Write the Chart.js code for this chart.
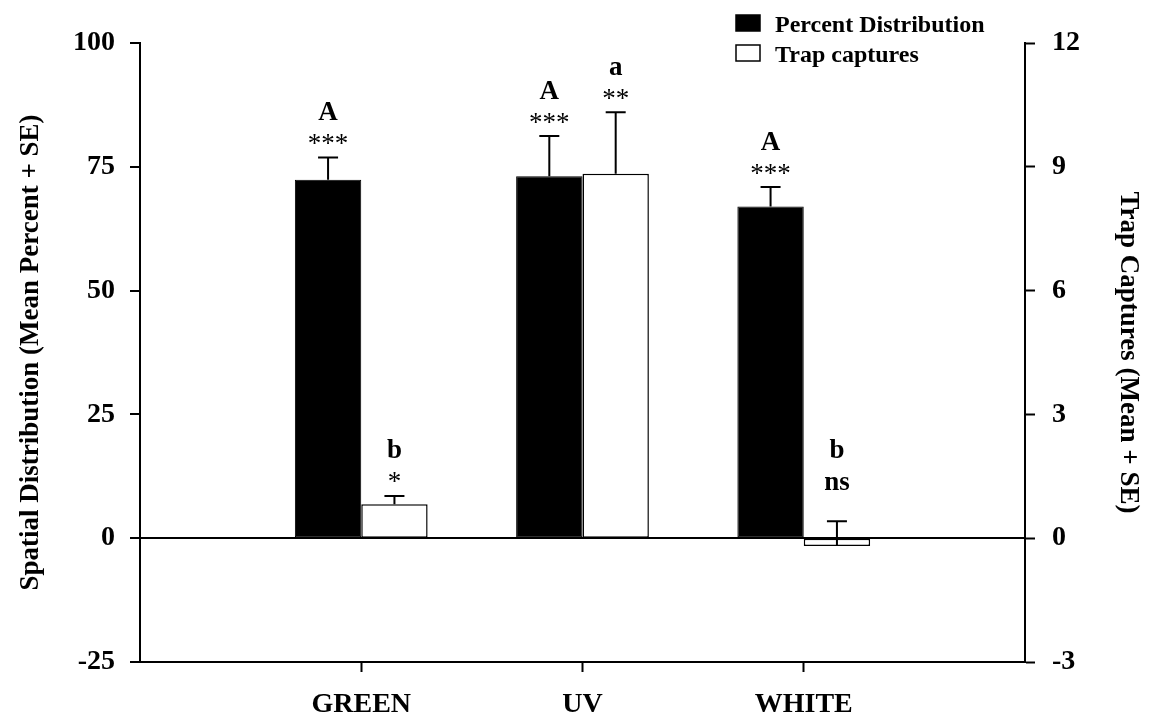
<!DOCTYPE html>
<html>
<head>
<meta charset="utf-8">
<script src="https://cdn.jsdelivr.net/npm/chart.js@4"></script>
<style>
    body { margin: 0; background: #fff; }
</style>
</head>
<body>
<canvas id="barChart" width="1150" height="719"></canvas>
<script>

// chart values
const categories = ["GREEN", "UV", "WHITE"]

const percentMean = [72.4, 73.1, 67.0]
const percentSE = [4.5, 8.1, 3.9]
const percentLetters = ["A", "A", "A"]
const percentStars = ["***", "***", "***"]

const trapMean = [0.82, 8.83, -0.19]
const trapSE = [0.2, 1.49, 0.6]
const trapLetters = ["b", "a", "b"]
const trapStars = ["*", "**", "ns"]

const leftTicks = [-25, 0, 25, 50, 75, 100]
const rightTicks = [-3, 0, 3, 6, 9, 12]

// an empty slot each side, the plot runs from 0 to 4
const pad = (arr) => [null, ...arr, null]

const serif = "'Liberation Serif', 'Times New Roman', serif"

Chart.defaults.font.family = serif
Chart.defaults.font.weight = "bold"
Chart.defaults.color = "#000"

const errorBars = {

    id: "errorBars",

    afterDatasetsDraw(chart) {

        const ctx = chart.ctx
        const sets = [
            { se: percentSE, letters: percentLetters, stars: percentStars },
            { se: trapSE, letters: trapLetters, stars: trapStars }
        ]
        const zeroY = chart.scales.y.getPixelForValue(0)

        ctx.save()

        sets.forEach((set, d) => {

            const meta = chart.getDatasetMeta(d)
            const scale = chart.scales[meta.yAxisID]
            const values = chart.data.datasets[d].data

            meta.data.forEach((bar, i) => {

                const v = values[i]
                if (v === null) return

                const se = set.se[i - 1]
                const capY = scale.getPixelForValue(v + se)

                ctx.strokeStyle = "#000"
                ctx.lineWidth = 2
                ctx.beginPath()
                ctx.moveTo(bar.x, bar.y)
                ctx.lineTo(bar.x, capY)
                ctx.moveTo(bar.x - 10, capY)
                ctx.lineTo(bar.x + 10, capY)
                ctx.stroke()

                // keep the marks clear of the zero line
                const starBase = Math.min(capY - 5, zeroY - 48)
                const star = set.stars[i - 1]

                ctx.fillStyle = "#000"
                ctx.textAlign = "center"
                ctx.textBaseline = "alphabetic"
                ctx.font = (star.includes("*") ? "" : "bold ") + "27px " + serif
                ctx.fillText(star, bar.x, starBase)
                ctx.font = "bold 27px " + serif
                ctx.fillText(set.letters[i - 1], bar.x, starBase - 32)

            })

        })

        ctx.restore()

    }

}

const boxLegend = {

    id: "boxLegend",

    afterDraw(chart) {

        const ctx = chart.ctx

        ctx.save()

        chart.data.datasets.forEach((ds, i) => {

            const top = 15 + i * 30

            ctx.fillStyle = ds.backgroundColor
            ctx.strokeStyle = "#000"
            ctx.lineWidth = 1.5
            ctx.fillRect(736, top, 24, 16)
            ctx.strokeRect(736, top, 24, 16)

            ctx.fillStyle = "#000"
            ctx.font = "bold 24px " + serif
            ctx.textAlign = "left"
            ctx.textBaseline = "alphabetic"
            ctx.fillText(ds.label, 775, top + 17)

        })

        ctx.restore()

    }

}

new Chart(document.getElementById("barChart"), {

    type: "bar",

    data: {

        labels: ["", ...categories, ""],

        datasets: [
            {
                label: "Percent Distribution",
                data: pad(percentMean),
                yAxisID: "y",
                backgroundColor: "#000",
                borderColor: "#000",
                borderWidth: 1,
                borderSkipped: false
            },
            {
                label: "Trap captures",
                data: pad(trapMean),
                yAxisID: "y1",
                backgroundColor: "#fff",
                borderColor: "#000",
                borderWidth: 1.5,
                borderSkipped: false
            }
        ]

    },

    options: {

        responsive: false,
        animation: false,

        layout: {
            padding: { top: 43, left: 0, right: 0, bottom: 0 }
        },

        datasets: {
            bar: {
                categoryPercentage: 0.6,
                barPercentage: 1
            }
        },

        plugins: {
            legend: { display: false },
            tooltip: { enabled: false }
        },

        scales: {

            x: {
                offset: false,
                grid: {
                    offset: false,
                    drawOnChartArea: false,
                    tickLength: 10,
                    tickWidth: 2,
                    tickColor: (c) => c.tick && c.tick.label ? "#000" : "transparent"
                },
                border: { color: "#000", width: 2 },
                ticks: {
                    autoSkip: false,
                    maxRotation: 0,
                    padding: 16,
                    font: { size: 28, weight: "bold" }
                },
                afterFit(scale) {
                    scale.height = 57
                }
            },

            y: {
                position: "left",
                min: leftTicks[0],
                max: leftTicks[leftTicks.length - 1],
                afterBuildTicks(scale) {
                    scale.ticks = leftTicks.map((v) => ({ value: v }))
                },
                grid: {
                    color: (c) => c.tick && c.tick.value === 0 ? "#000" : "transparent",
                    lineWidth: 2,
                    tickColor: "#000",
                    tickLength: 10,
                    tickWidth: 2
                },
                border: { color: "#000", width: 2 },
                ticks: {
                    padding: 15,
                    font: { size: 28, weight: "bold" }
                },
                title: {
                    display: true,
                    text: "Spatial Distribution (Mean Percent + SE)",
                    font: { size: 27, weight: "bold" },
                    padding: { top: 15, bottom: 0 }
                },
                afterFit(scale) {
                    scale.width = 140
                }
            },

            y1: {
                position: "right",
                min: rightTicks[0],
                max: rightTicks[rightTicks.length - 1],
                afterBuildTicks(scale) {
                    scale.ticks = rightTicks.map((v) => ({ value: v }))
                },
                grid: {
                    drawOnChartArea: false,
                    tickColor: "#000",
                    tickLength: 10,
                    tickWidth: 2
                },
                border: { color: "#000", width: 2 },
                ticks: {
                    padding: 17,
                    font: { size: 28, weight: "bold" }
                },
                title: {
                    display: true,
                    text: "Trap Captures (Mean + SE)",
                    font: { size: 27, weight: "bold" },
                    padding: { top: 6, bottom: 0 }
                },
                afterFit(scale) {
                    scale.width = 125
                }
            }

        }

    },

    plugins: [errorBars, boxLegend]

})

</script>
</body>
</html>
